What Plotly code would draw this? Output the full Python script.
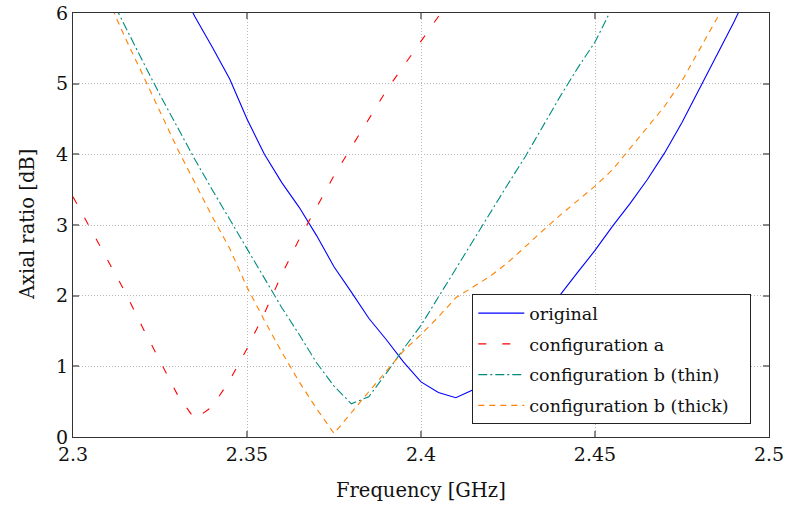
import plotly.graph_objects as go

# ---- data ----
freq_orig = [2.330, 2.335, 2.340, 2.345, 2.350, 2.355, 2.360, 2.365, 2.370, 2.375, 2.380,
             2.385, 2.390, 2.395, 2.400, 2.405, 2.410, 2.415, 2.420, 2.425, 2.430, 2.435,
             2.440, 2.445, 2.450, 2.455, 2.460, 2.465, 2.470, 2.475, 2.480, 2.485, 2.490, 2.495]
ar_orig = [6.45, 5.95, 5.52, 5.07, 4.50, 4.00, 3.60, 3.25, 2.85, 2.41, 2.05,
           1.68, 1.38, 1.06, 0.78, 0.63, 0.556, 0.67, 0.85, 1.10, 1.40, 1.70,
           2.01, 2.33, 2.64, 2.98, 3.30, 3.64, 4.02, 4.45, 4.93, 5.40, 5.88, 6.40]

freq_a = [2.300, 2.305, 2.310, 2.315, 2.320, 2.325, 2.330, 2.335, 2.340, 2.345, 2.350,
          2.355, 2.360, 2.365, 2.370, 2.375, 2.380, 2.385, 2.390, 2.395, 2.400, 2.405, 2.410]
ar_a = [3.40, 2.95, 2.50, 2.05, 1.55, 1.08, 0.60, 0.25, 0.43, 0.80, 1.25,
        1.75, 2.30, 2.80, 3.25, 3.70, 4.10, 4.50, 4.90, 5.25, 5.60, 5.95, 6.30]

freq_b_thin = [2.310, 2.315, 2.320, 2.325, 2.330, 2.335, 2.340, 2.345, 2.350, 2.355, 2.360,
               2.365, 2.370, 2.375, 2.380, 2.385, 2.390, 2.395, 2.400, 2.405, 2.410, 2.415,
               2.420, 2.425, 2.430, 2.435, 2.440, 2.445, 2.450, 2.455]
ar_b_thin = [6.30, 5.80, 5.32, 4.84, 4.38, 3.93, 3.50, 3.08, 2.67, 2.24, 1.83,
             1.45, 1.05, 0.72, 0.47, 0.57, 0.90, 1.25, 1.58, 1.98, 2.38, 2.80,
             3.18, 3.58, 3.97, 4.40, 4.82, 5.22, 5.59, 6.08]

freq_b_thick = [2.310, 2.315, 2.320, 2.325, 2.330, 2.335, 2.340, 2.345, 2.350, 2.355, 2.360,
                2.365, 2.370, 2.375, 2.380, 2.385, 2.390, 2.395, 2.400, 2.405, 2.410, 2.415,
                2.420, 2.425, 2.430, 2.435, 2.440, 2.445, 2.450, 2.455, 2.460, 2.465, 2.470,
                2.475, 2.480, 2.485, 2.490]
ar_b_thick = [6.20, 5.65, 5.13, 4.60, 4.08, 3.60, 3.12, 2.67, 2.12, 1.65, 1.20,
              0.78, 0.40, 0.05, 0.35, 0.64, 0.93, 1.22, 1.45, 1.70, 1.97, 2.13,
              2.28, 2.47, 2.70, 2.92, 3.14, 3.35, 3.55, 3.78, 4.08, 4.38, 4.68,
              5.04, 5.47, 5.92, 6.40]

series_names = ["original", "configuration a", "configuration b (thin)", "configuration b (thick)"]
x_ticks = [2.3, 2.35, 2.4, 2.45, 2.5]
x_tick_labels = ["2.3", "2.35", "2.4", "2.45", "2.5"]
y_ticks = [0, 1, 2, 3, 4, 5, 6]
x_title = "Frequency [GHz]"
y_title = "Axial ratio [dB]"

FONT = "DejaVu Serif"
TXT = "#111111"
PAD = "\u00a0\u00a0\u00a0"  # a little right padding inside the legend box

fig = go.Figure()
fig.add_trace(go.Scatter(x=freq_orig, y=ar_orig, mode="lines", name=series_names[0],
                         legendgroup="g0",
                         line=dict(color="#0000ff", width=1.1)))
fig.add_trace(go.Scatter(x=freq_a, y=ar_a, mode="lines", name=series_names[1],
                         legendgroup="g1",
                         line=dict(color="#ff0000", width=1.1, dash="8px,16px")))
fig.add_trace(go.Scatter(x=freq_b_thin, y=ar_b_thin, mode="lines", name=series_names[2],
                         legendgroup="g2",
                         line=dict(color="#008b80", width=1.1, dash="9px,3px,2px,3px")))
fig.add_trace(go.Scatter(x=freq_b_thick, y=ar_b_thick, mode="lines", name=series_names[3] + PAD,
                         legendgroup="g3",
                         line=dict(color="#ff8000", width=1.1, dash="6px,5px")))

axis_common = dict(
    showline=True, linecolor="#333333", linewidth=1, mirror="ticks",
    ticks="inside", ticklen=6, tickwidth=1.5, tickcolor="#888888",
    showgrid=True, gridcolor="#b8b8b8", griddash="1px,2px", gridwidth=1,
    zeroline=False, automargin=False,
    tickfont=dict(family=FONT, size=19, color=TXT),
)

fig.update_xaxes(range=[2.3, 2.5], tickvals=x_ticks, ticktext=x_tick_labels, **axis_common)
fig.update_yaxes(range=[0, 6], tickvals=y_ticks, **axis_common)

fig.add_annotation(text=x_title, xref="paper", yref="paper", x=0.5, y=-0.125,
                   xanchor="center", yanchor="middle", showarrow=False,
                   font=dict(family=FONT, size=19.5, color=TXT))
fig.add_annotation(text=y_title, xref="paper", yref="paper", x=-0.066, y=0.5,
                   xanchor="center", yanchor="middle", textangle=-90, showarrow=False,
                   font=dict(family=FONT, size=19.5, color=TXT))

fig.update_layout(
    width=785, height=506,
    margin=dict(l=73, r=16, t=13, b=69),
    paper_bgcolor="white", plot_bgcolor="white",
    font=dict(family=FONT, size=18, color=TXT),
    showlegend=True,
    legend=dict(x=0.5737, y=0.3366, xanchor="left", yanchor="top",
                bgcolor="white", bordercolor="#222222", borderwidth=1,
                font=dict(family=FONT, size=17.5, color=TXT),
                itemwidth=46, tracegroupgap=5, traceorder="grouped"),
)

fig.write_html("out.html",
               config={"displayModeBar": False},
               post_script="document.body.style.margin='0';document.body.style.overflow='hidden';")
